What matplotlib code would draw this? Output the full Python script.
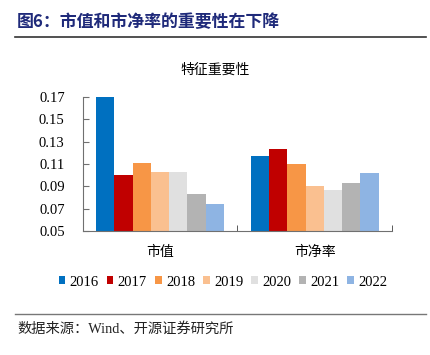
import matplotlib
matplotlib.use("Agg")
import matplotlib.pyplot as plt
from matplotlib.lines import Line2D
from matplotlib.patches import Patch
import numpy as np

plt.rcParams['font.family'] = ['Liberation Serif', 'Noto Sans CJK SC', 'DejaVu Sans']

categories = ["市值", "市净率"]
years = ["2016", "2017", "2018", "2019", "2020", "2021", "2022"]
values = {
    "2016": [0.170, 0.117],
    "2017": [0.100, 0.123],
    "2018": [0.111, 0.110],
    "2019": [0.103, 0.090],
    "2020": [0.103, 0.087],
    "2021": [0.083, 0.093],
    "2022": [0.074, 0.102],
}
colors = ["#0070C0", "#C00000", "#F79646", "#FAC090", "#E0E0E0", "#B3B3B3", "#8EB4E3"]
yticks = [0.05, 0.07, 0.09, 0.11, 0.13, 0.15, 0.17]

fig = plt.figure(figsize=(4.31, 3.55), dpi=100)
ax = fig.add_axes([0.192, 0.349, 0.9095 - 0.192, 0.7276 - 0.349])

x = np.arange(len(categories))
w = 0.118
n = len(years)
for i, (yr, c) in enumerate(zip(years, colors)):
    ax.bar(x + (i - (n - 1) / 2) * w, values[yr], width=w, color=c, label=yr,
           edgecolor='none')

ax.set_xlim(-0.5, 1.5)
ax.set_ylim(0.05, 0.17)
ax.set_yticks(yticks)
ax.set_yticklabels([f"{v:.2f}" for v in yticks], fontsize=10.5)
ax.set_xticks(x)
ax.set_xticklabels(categories, fontsize=10, family=['Noto Sans CJK SC'])
ax.set_xticks([-0.5, 0.5, 1.5], minor=True)
ax.tick_params(axis='x', which='major', length=0, pad=10)
ax.tick_params(axis='x', which='minor', direction='in', length=4, color='#404040')
ax.tick_params(axis='y', direction='in', length=4, color='#707070', pad=13)
for s in ['top', 'right']:
    ax.spines[s].set_visible(False)
ax.spines['left'].set_color('#707070')
ax.spines['bottom'].set_color('#707070')

fig.text(0.5, 1 - 70 / 355, "特征重要性", ha='center', va='center', fontsize=10,
         family=['Noto Sans CJK SC'])

handles = [Patch(facecolor=c, edgecolor='none') for c in colors]
fig.legend(handles, years, loc='center', bbox_to_anchor=(223 / 431, 1 - 282 / 355),
           ncol=7, frameon=False, handlelength=0.45, handleheight=0.45,
           handletextpad=0.3, columnspacing=0.55,
           prop={'family': 'Liberation Serif', 'size': 10.5})

fig.text(17 / 431, 1 - 22 / 355, "图6：市值和市净率的重要性在下降", ha='left', va='center',
         fontsize=12.2, fontweight='bold', color='#1F2A7A',
         family=['Noto Sans CJK SC', 'DejaVu Sans'])
fig.add_artist(Line2D([15 / 431, 426 / 431], [1 - 37.3 / 355] * 2, color='#333333', lw=1.2))
fig.add_artist(Line2D([15 / 431, 426 / 431], [1 - 314 / 355] * 2, color='#777777', lw=1.0))
fig.text(17 / 431, 1 - 329 / 355, "数据来源：Wind、开源证券研究所", ha='left', va='center',
         fontsize=10.3, family=['Liberation Serif', 'Noto Sans CJK SC'], color='#222222')

fig.savefig("out.png", dpi=100)
